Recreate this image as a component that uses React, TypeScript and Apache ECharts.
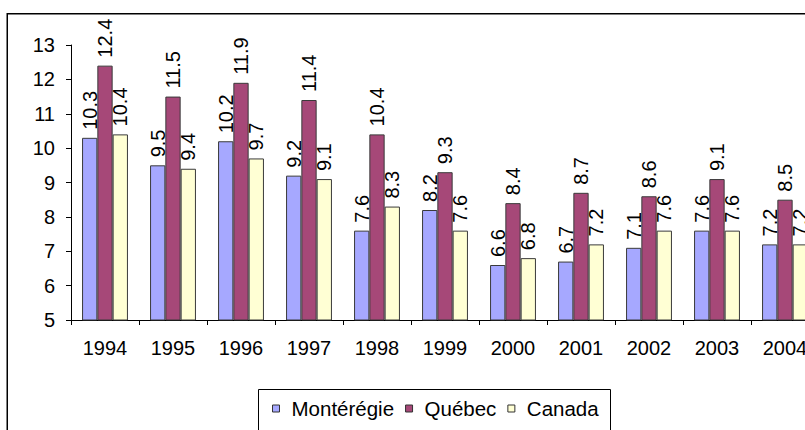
import React, { useEffect, useRef } from "react";
import * as echarts from "echarts";

const years = ["1994", "1995", "1996", "1997", "1998", "1999", "2000", "2001", "2002", "2003", "2004"];
const monteregie = [10.3, 9.5, 10.2, 9.2, 7.6, 8.2, 6.6, 6.7, 7.1, 7.6, 7.2];
const quebec = [12.4, 11.5, 11.9, 11.4, 10.4, 9.3, 8.4, 8.7, 8.6, 9.1, 8.5];
const canada = [10.4, 9.4, 9.7, 9.1, 8.3, 7.6, 6.8, 7.2, 7.6, 7.6, 7.2];
const seriesNames = ["Montérégie", "Québec", "Canada"];
const seriesColors = ["#A6A8FF", "#A64878", "#FFFFD4"];

const FONT = '"Liberation Sans", Arial, sans-serif';

export default function App() {
  const ref = useRef<HTMLDivElement>(null);
  useEffect(() => {
    if (!ref.current) return;
    const chart = echarts.init(ref.current, null, { renderer: "svg" });
    const dataSets = [monteregie, quebec, canada];
    chart.setOption({
      animation: false,
      backgroundColor: "#ffffff",
      textStyle: { fontFamily: FONT },
      grid: { left: 71, top: 45, bottom: 110, right: 11, containLabel: false },
      legend: {
        left: 267,
        top: 393,
        itemWidth: 7,
        itemHeight: 7,
        itemGap: 11,
        icon: "rect",
        itemStyle: { borderColor: "#333", borderWidth: 1 },
        textStyle: { fontSize: 20.5, color: "#000", fontFamily: FONT, padding: [0, 0, 0, 7] },
        data: seriesNames,
      },
      xAxis: {
        type: "category",
        data: years,
        axisLine: { lineStyle: { color: "#000", width: 1 } },
        axisTick: { show: true, length: 5, lineStyle: { color: "#000" } },
        axisLabel: { fontSize: 20, color: "#000", margin: 18, fontFamily: FONT, interval: 0 },
      },
      yAxis: {
        type: "value",
        min: 5,
        max: 13,
        interval: 1,
        splitLine: { show: false },
        axisLine: { show: true, lineStyle: { color: "#000", width: 1 } },
        axisTick: { show: true, length: 5, lineStyle: { color: "#000" } },
        axisLabel: { fontSize: 20, color: "#000", margin: 16, fontFamily: FONT },
      },
      graphic: [
        {
          type: "rect",
          shape: { x: 7.25, y: 13.75, width: 900, height: 600 },
          style: { fill: "none", stroke: "#000", lineWidth: 1.5 },
          z: 100,
        },
        {
          type: "rect",
          shape: { x: 258.5, y: 389.5, width: 352, height: 100 },
          style: { fill: "none", stroke: "#000", lineWidth: 1 },
          z: 100,
        },
      ],
      series: dataSets.map((d, i) => ({
        name: seriesNames[i],
        type: "bar",
        data: d,
        barWidth: 15.3,
        barGap: "0%",
        itemStyle: { color: seriesColors[i], borderColor: "#3a3a3a", borderWidth: 1 },
        label: {
          show: true,
          position: "top",
          rotate: 90,
          align: "left",
          verticalAlign: "middle",
          distance: 8,
          fontSize: 20,
          color: "#000",
          fontFamily: FONT,
        },
      })),
    });
    return () => chart.dispose();
  }, []);
  return (
    <div style={{ position: "absolute", left: 0, top: 0, width: 805, height: 430, overflow: "hidden" }}>
      <div ref={ref} style={{ width: 830, height: 430 }} />
    </div>
  );
}
